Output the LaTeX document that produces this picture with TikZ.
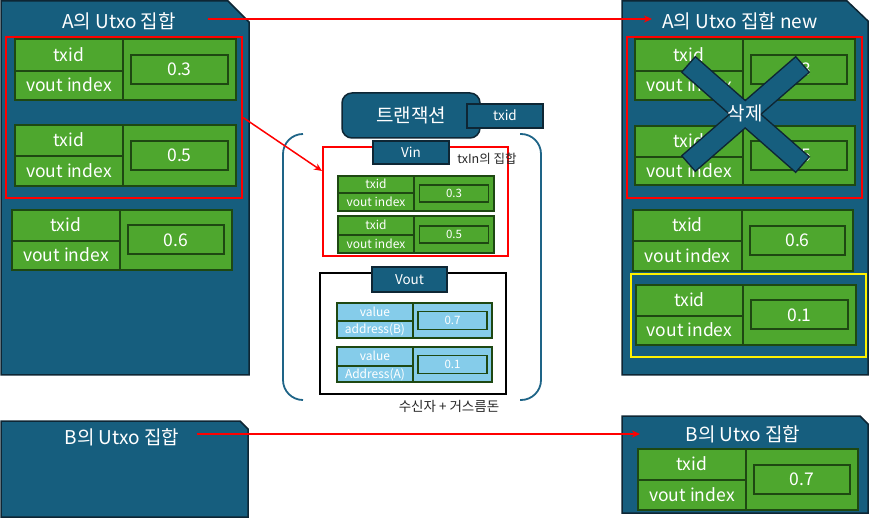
\documentclass[tikz,border=0pt]{standalone}
\usepackage{fontspec}
\setmainfont{Noto Sans CJK KR}
\usetikzlibrary{arrows.meta}
\definecolor{pblue}{RGB}{22,94,126}
\definecolor{pedge}{RGB}{14,38,52}
\definecolor{rgreen}{RGB}{78,167,46}
\definecolor{redge}{RGB}{30,72,18}
\definecolor{lblue}{RGB}{133,204,234}
\definecolor{bracketc}{RGB}{30,100,135}
\newcounter{rc}
\def\recfill{rgreen}
\def\ri{8}
\def\rh{14.5}
\newcommand\recbox[9]{%
 \stepcounter{rc}%
 \draw[recline,fill=\recfill] (#1,#2) rectangle (#3,#4);
 \draw[recline] (#5,#2) -- (#5,#4);
 \draw[recline] (#1,#6) -- (#5,#6);
 \draw[recline] ({#5+\ri},{(#2+#4)/2-\rh}) rectangle ({#3-\ri},{(#2+#4)/2+\rh});
 \node[rectext] (rt\therc) at ({(#1+#5)/2},{(#2+#6)/2}) {#7};
 \node[rectext] (rb\therc) at ({(#1+#5)/2},{(#6+#4)/2}) {#8};
 \node[valtext] (rv\therc) at ({(#5+#3)/2},{(#2+#4)/2}) {#9};
}
\tikzset{
 fs/.style={font=\fontsize{#1}{#1}\selectfont,text height={0.72*#1 pt},text depth=0pt,inner sep=0pt},
 panel/.style={draw=pedge,fill=pblue,line width=1.5pt},
 recline/.style={draw=redge,line width=2pt},
 rectext/.style={text=white,fs=17.5},
 valtext/.style={text=white,fs=17.5},
 title/.style={text=white,fs=19},
 lbl/.style={draw=pedge,fill=pblue,line width=1.5pt,text=white,fs=13.5},
 note/.style={text=black!85,fs=12.5},
 redbox/.style={draw=red,line width=2pt,inner sep=0pt,anchor=north west},
 redarrow/.style={draw=red,line width=1.5pt,-{Stealth[length=8pt,width=7pt]}},
}
\begin{document}
\begin{tikzpicture}[x=1pt,y=-1pt]
\useasboundingbox (0,0) rectangle (870,518);
% panels
\draw[panel] (1,1) -- (228,1) -- (249,22) -- (249,375) -- (1,375) -- cycle;
\draw[panel] (622,1) -- (847,1) -- (868,21) -- (868,375) -- (622,375) -- cycle;
\draw[panel] (1,421) -- (240,421) -- (248,429) -- (248,517) -- (1,517) -- cycle;
\draw[panel] (622,416) -- (860,416) -- (868,424) -- (868,513) -- (622,513) -- cycle;
% titles
\node[title] (tA) at (119,22) {A의 Utxo 집합};
\node[title] (tAn) at (740,22) {A의 Utxo 집합 new};
\node[title] (tB) at (122,438) {B의 Utxo 집합};
\node[title] (tBn) at (743,435) {B의 Utxo 집합};
% red / yellow boxes
\node[redbox,minimum width=236pt,minimum height=161pt] (redA) at (5,36) {};
\node[redbox,minimum width=235pt,minimum height=161pt] (redAn) at (626,36) {};
\node[draw=yellow,line width=2pt,inner sep=0pt,anchor=north west,minimum width=235pt,minimum height=83pt] (yel) at (630,273) {};
% big records
\recbox{15}{39}{236}{100}{123}{71}{txid}{vout index}{0.3}
\recbox{15}{125}{236}{186}{123}{156}{txid}{vout index}{0.5}
\recbox{12}{210}{232}{270}{120}{241}{txid}{vout index}{0.6}
\recbox{635}{39}{855}{100}{743}{71}{txid}{vout index}{0.3}
\recbox{635}{126}{855}{185}{743}{157}{txid}{vout index}{0.5}
\recbox{633}{210}{853}{271}{742}{241}{txid}{vout index}{0.6}
\recbox{636}{285}{856}{345}{743}{316}{txid}{vout index}{0.1}
\recbox{638}{449}{858}{510}{746}{480}{txid}{vout index}{0.7}
% delete cross
\draw[line width=22pt,pedge] (688,64) -- (803,165);
\draw[line width=22pt,pedge] (803,64) -- (688,164);
\draw[line width=19pt,pblue,shorten <=1.5pt,shorten >=1.5pt] (688,64) -- (803,165);
\draw[line width=19pt,pblue,shorten <=1.5pt,shorten >=1.5pt] (803,64) -- (688,164);
\node[title] (del) at (745,114) {삭제};
% transaction
\draw[bracketc,line width=1.8pt,rounded corners=20pt] (303,134) -- (283,134) -- (283,400) -- (303,400);
\draw[bracketc,line width=1.8pt,rounded corners=20pt] (520,134) -- (541,134) -- (541,400) -- (520,400);
\node[draw=pedge,fill=pblue,line width=1.5pt,rounded corners=10pt,minimum width=138pt,minimum height=45pt,text=white,fs=19] (tx) at (411,115.5) {트랜잭션};
\node[lbl,minimum width=76pt,minimum height=24pt] (txid) at (505,116) {txid};
% Vin
\node[redbox,minimum width=185pt,minimum height=109pt] (vin) at (322,146) {};
\node[lbl,minimum width=76pt,minimum height=23pt] (vinl) at (411,152.5) {Vin};
\node[note] (txin) at (487,159) {txIn의 집합};
\begin{scope}[recline/.style={draw=redge,line width=1.6pt},
 rectext/.style={text=white,fs=12},
 valtext/.style={text=white,fs=11.5}]
\def\ri{5.5}\def\rh{8.5}
\recbox{338}{176}{494}{211}{414}{193}{txid}{vout index}{0.3}
\recbox{338}{216}{494}{253}{414}{235}{txid}{vout index}{0.5}
% Vout
\node[draw=black,line width=1.8pt,inner sep=0pt,anchor=north west,minimum width=186pt,minimum height=121pt] (vout) at (319,272) {};
\node[lbl,minimum width=75pt,minimum height=25pt] (voutl) at (409.5,279.5) {Vout};
\def\recfill{lblue}\def\ri{5}\def\rh{9}
\recbox{337}{303}{492}{338}{413}{321}{value}{address(B)}{0.7}
\recbox{337}{347}{492}{382}{413}{366}{value}{Address(A)}{0.1}
\end{scope}
\node[note,fs=13.5] (chg) at (449,407) {수신자 + 거스름돈};
% connectors
\coordinate (a1) at (208,19);
\coordinate (a2) at (652,19);
\coordinate (b1) at (197,434);
\coordinate (b2) at (640,434);
\coordinate (c2) at (322,171);
\draw[redarrow] (a1) -- (a2);
\draw[redarrow] (b1) -- (b2);
\draw[redarrow] (redA.east) -- (c2);
\end{tikzpicture}
\end{document}
